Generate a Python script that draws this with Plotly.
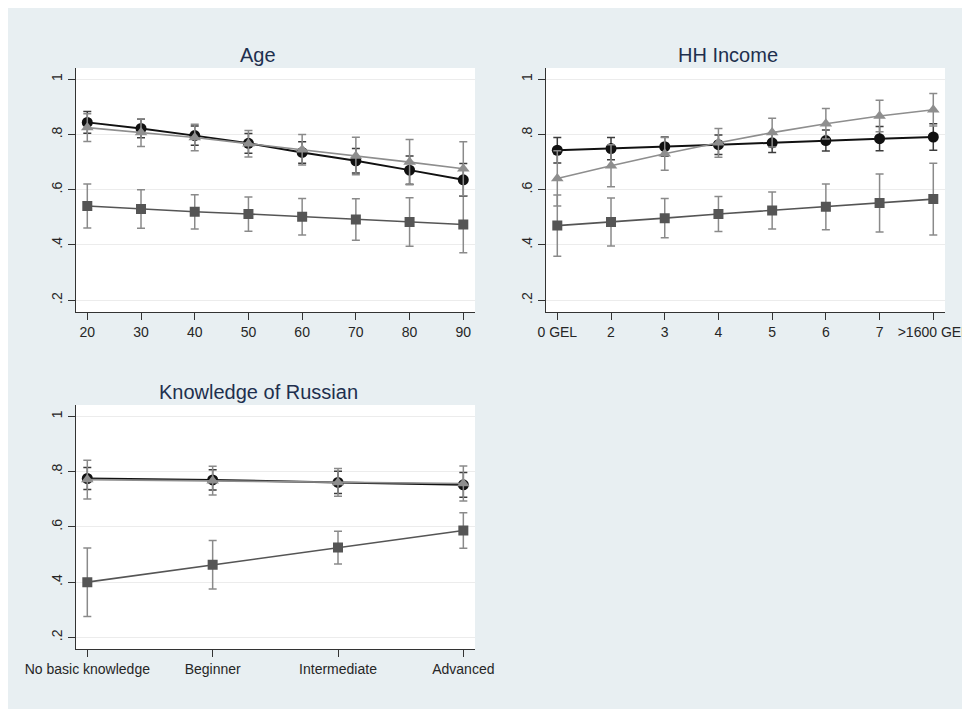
import plotly.graph_objects as go

# ---------------- data ----------------
age_x = [20, 30, 40, 50, 60, 70, 80, 90]
age_circle = [0.844, 0.822, 0.796, 0.768, 0.735, 0.705, 0.671, 0.636]
age_circle_ci = [0.039, 0.034, 0.035, 0.036, 0.039, 0.044, 0.051, 0.059]
age_triangle = [0.825, 0.807, 0.789, 0.767, 0.745, 0.722, 0.700, 0.676]
age_triangle_ci = [0.050, 0.050, 0.048, 0.048, 0.055, 0.068, 0.082, 0.098]
age_square = [0.541, 0.530, 0.520, 0.512, 0.502, 0.492, 0.483, 0.474]
age_square_ci = [0.080, 0.070, 0.062, 0.062, 0.066, 0.075, 0.088, 0.102]

inc_labels = ["0 GEL", "2", "3", "4", "5", "6", "7", ">1600 GEL"]
inc_x = [1, 2, 3, 4, 5, 6, 7, 8]
inc_circle = [0.743, 0.749, 0.756, 0.763, 0.770, 0.778, 0.785, 0.791]
inc_circle_ci = [0.046, 0.040, 0.035, 0.035, 0.035, 0.038, 0.044, 0.048]
inc_triangle = [0.641, 0.687, 0.730, 0.770, 0.807, 0.839, 0.867, 0.890]
inc_triangle_ci = [0.100, 0.076, 0.059, 0.052, 0.052, 0.055, 0.057, 0.059]
inc_square = [0.470, 0.483, 0.497, 0.512, 0.525, 0.538, 0.552, 0.566]
inc_square_ci = [0.111, 0.087, 0.071, 0.063, 0.067, 0.083, 0.105, 0.130]

rus_labels = ["No basic knowledge", "Beginner", "Intermediate", "Advanced"]
rus_x = [0, 1, 2, 3]
rus_circle = [0.775, 0.770, 0.761, 0.752]
rus_circle_ci = [0.040, 0.037, 0.040, 0.045]
rus_triangle = [0.771, 0.767, 0.761, 0.757]
rus_triangle_ci = [0.070, 0.052, 0.050, 0.063]
rus_square = [0.400, 0.463, 0.525, 0.587]
rus_square_ci = [0.124, 0.088, 0.059, 0.064]

y_ticks = [0.2, 0.4, 0.6, 0.8, 1.0]
y_ticktext = [".2", ".4", ".6", ".8", "1"]

titles = ["Age", "HH Income", "Knowledge of Russian"]

# ---------------- figure ----------------
W, H = 970, 701
OFF = 8  # page body margin
fig = go.Figure()

BLACK = "#111111"
GRAY = "#8e8e8e"
DGRAY = "#555555"
ERR = "#8a8a8a"
ERR_DARK = "#3c3c3c"


def add_panel(x, circ, circ_ci, tri, tri_ci, sq, sq_ci, xa, ya):
    fig.add_trace(go.Scatter(
        x=x, y=sq, mode="lines+markers", xaxis=xa, yaxis=ya, showlegend=False,
        line=dict(color=DGRAY, width=1.6),
        marker=dict(symbol="square", size=10, color=DGRAY),
        error_y=dict(type="data", array=sq_ci, color=ERR, thickness=1.5, width=4)))
    fig.add_trace(go.Scatter(
        x=x, y=circ, mode="lines+markers", xaxis=xa, yaxis=ya, showlegend=False,
        line=dict(color=BLACK, width=2),
        marker=dict(symbol="circle", size=11, color=BLACK),
        error_y=dict(type="data", array=circ_ci, color=ERR_DARK, thickness=1.5, width=4)))
    fig.add_trace(go.Scatter(
        x=x, y=tri, mode="lines+markers", xaxis=xa, yaxis=ya, showlegend=False,
        line=dict(color=GRAY, width=1.6),
        marker=dict(symbol="triangle-up", size=11, color=GRAY),
        error_y=dict(type="data", array=tri_ci, color=ERR, thickness=1.5, width=4)))


add_panel(age_x, age_circle, age_circle_ci, age_triangle, age_triangle_ci,
          age_square, age_square_ci, "x", "y")
add_panel(inc_x, inc_circle, inc_circle_ci, inc_triangle, inc_triangle_ci,
          inc_square, inc_square_ci, "x2", "y2")
add_panel(rus_x, rus_circle, rus_circle_ci, rus_triangle, rus_triangle_ci,
          rus_square, rus_square_ci, "x3", "y3")


def px_x(p):
    return (p - OFF) / W


def px_y(p):
    return 1 - (p - OFF) / H


axis_font = dict(family="Liberation Sans, Arial, sans-serif", size=14, color="#262626")
common_x = dict(showline=True, linecolor="#333333", linewidth=1.3, ticks="outside",
                ticklen=7, tickcolor="#333333", tickwidth=1.3, showgrid=False,
                zeroline=False, tickfont=axis_font, fixedrange=True, automargin=False)
common_y = dict(showline=True, linecolor="#333333", linewidth=1.3, ticks="outside",
                ticklen=7, tickcolor="#333333", tickwidth=1.3, showgrid=True,
                gridcolor="#ececec", gridwidth=1, zeroline=False, tickfont=axis_font,
                tickvals=y_ticks, ticktext=y_ticktext, tickangle=-90,
                range=[0.157, 1.041], fixedrange=True, ticklabelstandoff=0,
                automargin=False)

fig.update_layout(
    width=W, height=H,
    margin=dict(l=0, r=0, t=0, b=0, autoexpand=False),
    paper_bgcolor="#e8eff2",
    plot_bgcolor="white",
    xaxis=dict(common_x, domain=[px_x(75.7), px_x(475)], range=[17.84, 92.18],
               tickvals=age_x, anchor="y"),
    yaxis=dict(common_y, domain=[px_y(312), px_y(68)], anchor="x"),
    xaxis2=dict(common_x, domain=[px_x(545.7), px_x(945)], range=[0.784, 8.218],
                tickvals=inc_x, ticktext=inc_labels, anchor="y2"),
    yaxis2=dict(common_y, domain=[px_y(312), px_y(68)], anchor="x2"),
    xaxis3=dict(common_x, domain=[px_x(75.7), px_x(475)], range=[-0.0926, 3.093],
                tickvals=rus_x, ticktext=rus_labels, anchor="y3"),
    yaxis3=dict(common_y, domain=[px_y(649.3), px_y(405)], anchor="x3"),
)

title_font = dict(family="Liberation Sans, Arial, sans-serif", size=20, color="#1e2f4e")
for txt, cx, cy in [(titles[0], 258, 55), (titles[1], 728, 55), (titles[2], 258.5, 392)]:
    fig.add_annotation(text=txt, xref="paper", yref="paper", x=px_x(cx), y=px_y(cy),
                       xanchor="center", yanchor="middle", showarrow=False,
                       font=title_font)

fig.write_html(
    "out.html",
    post_script="document.documentElement.style.overflow='hidden';"
                "document.body.style.overflow='hidden';",
)
